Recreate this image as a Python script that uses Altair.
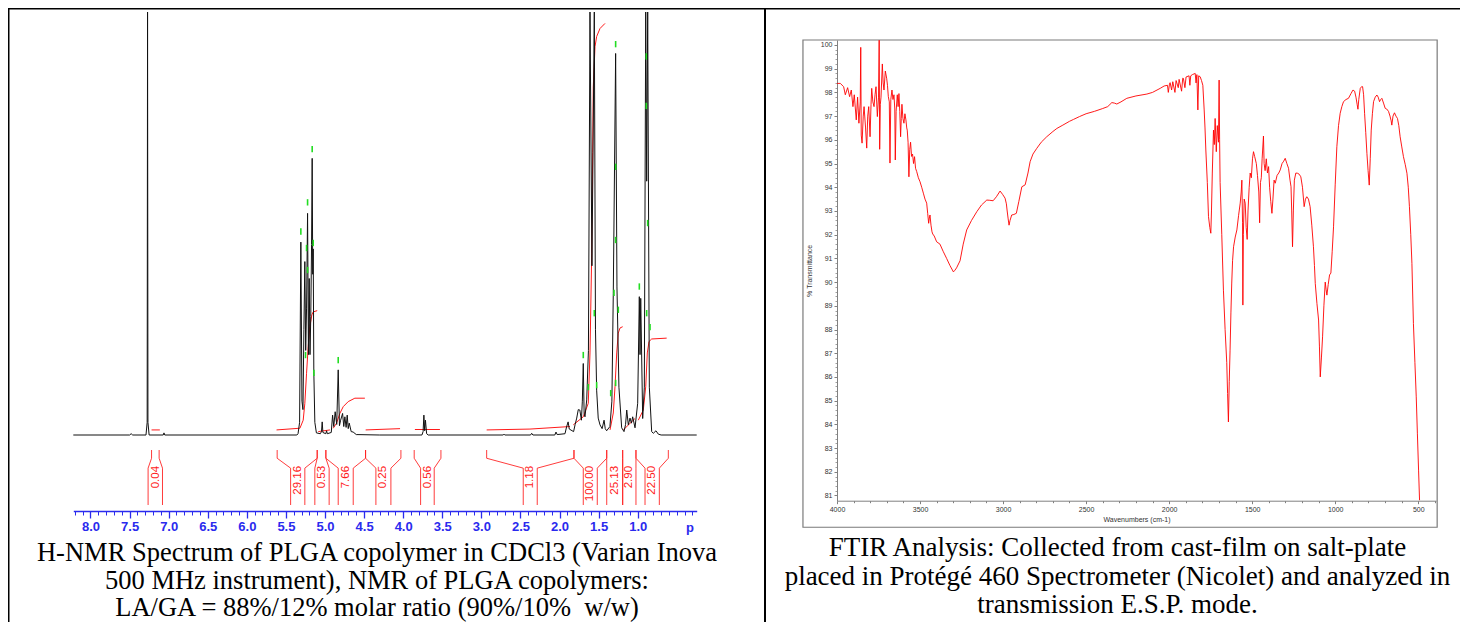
import altair as alt
import pandas as pd

# ---------------- H-NMR spectrum (chemical shift ppm, relative intensity) ----------------
nmr_ppm = [8.22, 7.50, 7.48, 7.46, 7.29, 7.275, 7.27, 7.265, 7.25, 7.07,
           7.06, 7.05, 5.36, 5.345, 5.325, 5.309, 5.295, 5.282, 5.270, 5.258,
           5.247, 5.236, 5.223, 5.212, 5.202, 5.192, 5.182, 5.172, 5.164, 5.157,
           5.151, 5.143, 5.130, 5.110, 5.06, 5.045, 5.036, 5.027, 4.99, 4.98,
           4.97, 4.92, 4.903, 4.888, 4.870, 4.850, 4.831, 4.815, 4.800, 4.775,
           4.760, 4.746, 4.730, 4.716, 4.703, 4.690, 4.665, 4.640, 4.60, 4.30,
           3.76, 3.745, 3.735, 3.725, 3.715, 3.70, 3.68, 2.72, 2.71, 2.70,
           2.37, 2.356, 2.34, 2.06, 2.045, 2.03, 1.93, 1.91, 1.89, 1.875,
           1.82, 1.80, 1.78, 1.76, 1.74, 1.72, 1.708, 1.696, 1.685, 1.674,
           1.652, 1.630, 1.610, 1.585, 1.555, 1.540, 1.525, 1.505, 1.482, 1.455,
           1.43, 1.415, 1.397, 1.355, 1.330, 1.312, 1.282, 1.265, 1.24, 1.205,
           1.175, 1.155, 1.14, 1.12, 1.098, 1.08, 1.064, 1.034, 1.000, 0.979,
           0.970, 0.961, 0.936, 0.915, 0.897, 0.885, 0.872, 0.851, 0.821, 0.80,
           0.766, 0.736, 0.70, 0.245]
nmr_int = [0, 0, 0.3, 0, 0, 3.0, 100, 3.0, 0, 0,
           0.5, 0, 0, 0.3, 3, 45.6, 8, 6, 25, 41,
           20, 30, 52.4, 19, 37, 19, 28, 45, 65.4, 38,
           44, 15, 3, 0.5, 0.3, 0.8, 3.1, 0.6, 0.3, 1.0,
           0.3, 0.6, 4.7, 2.0, 5.5, 2.5, 15.4, 2.2, 3.5, 5.1,
           2.0, 4.3, 1.8, 4.7, 1.5, 2.8, 0.8, 0.7, 0.1, 0,
           0, 0.8, 4.7, 1.0, 3.5, 0.3, 0, 0, 0.2, 0,
           0, 0.4, 0, 0, 0.7, 0.1, 0.3, 1.9, 3.1, 1.4,
           0.8, 2.5, 4.0, 6.0, 5.9, 3.5, 8.0, 16.9, 5.0, 4.3,
           8.3, 20, 100, 40, 100, 25, 10.6, 4, 2.4, 1.5,
           3.5, 1.5, 1.0, 2.0, 8, 33.5, 90.2, 35, 11.3, 1.7,
           0.8, 2.5, 5.9, 2.4, 4.0, 2.8, 4.3, 1.7, 7.5, 32.7,
           19, 32.3, 3.9, 11.3, 100, 60, 100, 11.3, 0.8, 0.4,
           1.0, 0.2, 0, 0]

# integral curves (red), one list per integrated region
integral_ppm = [
    [7.219, 7.113],
    [5.62, 5.321, 5.279, 5.258, 5.236, 5.215, 5.194, 5.168, 5.151, 5.100],
    [5.087, 4.937],
    [4.895, 4.852, 4.81, 4.767, 4.703, 4.618, 4.49],
    [4.48, 4.04],
    [3.85, 3.53],
    [2.932, 2.378, 1.866],
    [1.824, 1.696, 1.632, 1.610, 1.588, 1.576, 1.568, 1.546, 1.525, 1.482, 1.418],
    [1.354, 1.312, 1.290, 1.268, 1.248, 1.226, 1.192],
    [1.184, 1.034],
    [0.992, 0.928, 0.897, 0.877, 0.855, 0.821, 0.629],
]
integral_val = [
    [1.2, 1.2],
    [1.2, 1.6, 3.5, 7.5, 14.6, 20.9, 25.6, 28.4, 29.1, 29.4],
    [0.8, 1.2],
    [1.6, 2.8, 5.1, 6.7, 7.9, 8.7, 8.7],
    [1.2, 1.5],
    [1.3, 1.3],
    [1.2, 1.4, 2.0],
    [2.4, 4.3, 7.5, 19.4, 43, 66.7, 82.3, 91.8, 94.2, 96.1, 97.3],
    [1.2, 5.2, 11.4, 19.4, 24.1, 25.3, 25.6],
    [1.2, 3.9],
    [3.5, 5.9, 11.4, 19.4, 22.1, 22.7, 22.9],
]

# green peak-pick markers
marker_ppm = [5.309, 5.236, 5.223, 5.223, 5.164, 5.151, 5.249, 5.142, 4.831, 1.696,
              1.632, 1.555, 1.525, 1.282, 1.282, 1.282, 1.303, 1.248, 1.282, 1.345,
              0.979, 0.890, 0.890, 0.872, 0.885, 0.842]
marker_int = [48.1, 44.2, 55.0, 39.0, 67.6, 45.4, 18.9, 14.7, 17.7, 18.9,
              11.3, 28.8, 11.8, 92.4, 63.4, 46.1, 33.6, 29.6, 12.3, 9.9,
              35.1, 89.5, 77.8, 50.1, 28.8, 25.5]

# integration brackets below the spectrum
bracket_labels = ["0.04", "29.16", "0.53", "7.66", "0.25", "0.56", "1.18", "100.00", "25.13", "2.90", "22.50"]
bracket_top_left = [7.219, 5.612, 5.100, 4.989, 4.481, 3.859, 2.932, 1.815, 1.396, 1.192, 1.022]
bracket_bot_left = [7.263, 5.440, 5.130, 4.831, 4.349, 3.777, 2.464, 1.696, 1.396, 1.192, 0.906]
bracket_top_right = [7.122, 5.100, 4.989, 4.481, 4.029, 3.517, 1.815, 1.396, 1.192, 1.022, 0.608]
bracket_bot_right = [7.079, 5.258, 4.947, 4.639, 4.157, 3.603, 2.285, 1.517, 1.192, 1.022, 0.723]
bracket_label_ppm = [7.168, 5.351, 5.036, 4.737, 4.255, 3.687, 2.378, 1.610, 1.290, 1.107, 0.821]

nmr_tick_labels = [8.0, 7.5, 7.0, 6.5, 6.0, 5.5, 5.0, 4.5, 4.0, 3.5, 3.0, 2.5, 2.0, 1.5, 1.0]

# ---------------- FTIR spectrum (wavenumber cm-1, % transmittance) ----------------
ir_wn = [4000, 3980, 3960, 3950, 3936, 3924, 3914, 3904, 3896, 3884,
         3876, 3868, 3860, 3857, 3854, 3849, 3842, 3837, 3828, 3821,
         3815, 3809, 3801, 3795, 3791, 3784, 3777, 3771, 3765, 3757,
         3750, 3746, 3743, 3739, 3735, 3727, 3722, 3717, 3709, 3701,
         3696, 3691, 3685, 3681, 3676, 3669, 3663, 3657, 3652, 3649,
         3644, 3637, 3632, 3627, 3622, 3617, 3613, 3609, 3603, 3597,
         3591, 3585, 3580, 3577, 3572, 3567, 3562, 3557, 3551, 3545,
         3539, 3533, 3527, 3520, 3510, 3500, 3490, 3480, 3470, 3460,
         3454, 3448, 3444, 3440, 3434, 3428, 3422, 3416, 3400, 3380,
         3361, 3340, 3320, 3299, 3290, 3280, 3259, 3240, 3219, 3190,
         3158, 3130, 3098, 3080, 3060, 3040, 3018, 3003, 2988, 2980,
         2976, 2970, 2964, 2958, 2948, 2935, 2920, 2905, 2887, 2867,
         2850, 2837, 2820, 2797, 2770, 2737, 2700, 2676, 2640, 2600,
         2576, 2540, 2500, 2450, 2400, 2370, 2345, 2330, 2315, 2290,
         2255, 2200, 2134, 2100, 2054, 2030, 2010, 2005, 1998, 1994,
         1985, 1978, 1965, 1958, 1945, 1940, 1925, 1918, 1914, 1905,
         1898, 1880, 1875, 1870, 1860, 1850, 1843, 1838, 1833, 1827,
         1822, 1813, 1805, 1797, 1789, 1784, 1779, 1770, 1763, 1755,
         1749, 1745, 1740, 1733, 1728, 1723, 1716, 1710, 1703, 1699,
         1696, 1693, 1683, 1673, 1663, 1653, 1648, 1643, 1638, 1633,
         1628, 1623, 1618, 1612, 1602, 1592, 1582, 1572, 1566, 1562,
         1558, 1556, 1553, 1548, 1542, 1536, 1530, 1525, 1518, 1512,
         1505, 1498, 1492, 1485, 1475, 1468, 1460, 1455, 1450, 1445,
         1440, 1432, 1428, 1422, 1415, 1408, 1401, 1395, 1388, 1381,
         1375, 1368, 1361, 1350, 1340, 1331, 1320, 1310, 1301, 1291,
         1281, 1272, 1266, 1262, 1257, 1252, 1246, 1237, 1227, 1217,
         1207, 1197, 1187, 1179, 1171, 1161, 1151, 1141, 1131, 1125,
         1120, 1110, 1100, 1095, 1090, 1083, 1076, 1068, 1060, 1055,
         1050, 1042, 1034, 1026, 1018, 1010, 1000, 990, 980, 970,
         960, 950, 935, 920, 905, 893, 883, 875, 868, 863,
         858, 849, 840, 835, 829, 823, 816, 809, 802, 795,
         789, 783, 776, 769, 759, 749, 741, 733, 726, 719,
         709, 699, 690, 679, 670, 663, 659, 652, 643, 634,
         625, 617, 609, 599, 589, 578, 568, 560, 553, 545,
         538, 529, 520, 512, 505, 498, 492]
ir_t = [98.38, 98.38, 98.24, 97.9, 98.2, 97.82, 98.1, 97.4, 97.9, 96.84,
        97.8, 96.7, 97.6, 99.9, 96.2, 95.86, 97.0, 97.4, 96.5, 95.65,
        97.0, 97.4, 96.13, 97.5, 98.17, 97.6, 97.4, 97.9, 98.24, 96.98,
        97.8, 100.2, 95.6, 97.5, 97.8, 99.2, 98.4, 98.1, 98.9, 98.6,
        98.3, 97.82, 97.6, 95.02, 97.7, 98.1, 97.7, 97.9, 97.3, 95.15,
        97.2, 97.9, 97.4, 97.95, 97.2, 96.13, 96.9, 97.5, 96.9, 96.7,
        97.1, 96.84, 96.5, 96.41, 95.9, 94.44, 95.6, 95.9, 95.3, 95.4,
        95.0, 95.29, 94.8, 94.66, 94.4, 94.23, 94.0, 93.75, 93.5, 93.33,
        92.9, 92.48, 92.7, 92.83, 92.4, 92.12, 92.0, 91.97, 91.7, 91.6,
        91.3, 91.0, 90.7, 90.43, 90.5, 90.6, 90.9, 91.6, 92.2, 92.6,
        92.97, 93.25, 93.46, 93.45, 93.43, 93.6, 93.84, 93.7, 93.54, 93.3,
        93.04, 92.7, 92.4, 92.6, 92.83, 92.85, 92.9, 93.4, 94.02, 94.1,
        94.6, 95.08, 95.4, 95.64, 95.9, 96.13, 96.35, 96.48, 96.62, 96.78,
        96.86, 96.98, 97.1, 97.2, 97.32, 97.4, 97.57, 97.55, 97.51, 97.6,
        97.75, 97.85, 97.93, 98.0, 98.17, 98.27, 98.3, 98.0, 98.35, 98.41,
        98.1, 98.45, 98.0, 98.5, 98.2, 98.55, 98.05, 98.6, 98.59, 98.2,
        98.65, 98.7, 98.3, 98.7, 98.75, 98.78, 98.8, 98.4, 98.75, 97.26,
        98.7, 98.66, 98.5, 98.3, 97.26, 96.5, 95.57, 94.2, 92.76, 92.3,
        92.06, 93.0, 94.6, 96.41, 95.8, 96.9, 95.5, 96.6, 95.9, 98.52,
        96.0, 94.2, 92.0, 89.66, 88.0, 86.6, 85.3, 84.1, 85.8, 87.13,
        88.7, 89.96, 90.9, 91.49, 91.9, 92.2, 92.8, 93.33, 93.8, 94.3,
        92.5, 89.03, 92.0, 93.5, 93.33, 92.3, 91.8, 93.0, 94.0, 94.6,
        94.4, 95.2, 95.5, 95.3, 95.0, 94.5, 93.8, 92.5, 94.2, 94.4,
        95.2, 96.16, 95.0, 94.7, 95.2, 94.6, 94.87, 94.0, 93.4, 92.9,
        93.5, 94.3, 94.17, 94.5, 94.6, 94.73, 95.0, 95.1, 95.22, 95.0,
        94.8, 94.3, 94.02, 93.0, 91.49, 93.0, 94.3, 94.6, 94.59, 94.55,
        94.44, 94.0, 93.18, 93.5, 93.6, 93.5, 93.18, 92.4, 91.49, 90.7,
        89.94, 89.1, 88.4, 87.3, 86.0, 86.8, 87.69, 89.0, 90.0, 89.7,
        89.45, 89.9, 90.3, 90.38, 91.3, 92.33, 94.1, 95.71, 96.6, 97.12,
        97.4, 97.61, 97.7, 97.75, 97.95, 98.1, 98.05, 97.8, 97.5, 97.29,
        97.7, 98.17, 98.25, 98.24, 97.9, 97.12, 96.3, 95.43, 94.7, 94.09,
        95.2, 96.41, 97.1, 97.61, 97.8, 97.89, 97.8, 97.61, 97.7, 97.75,
        97.55, 97.33, 97.3, 97.2, 97.0, 96.8, 96.62, 97.0, 97.14, 97.0,
        96.9, 96.6, 96.13, 95.7, 95.29, 94.95, 94.59, 94.0, 93.18, 92.0,
        90.79, 88.26, 86.6, 85.16, 83.6, 82.07, 80.8]

ir_tick_wn = [4000, 3500, 3000, 2500, 2000, 1500, 1000, 500]
ir_tick_t = list(range(81, 101))

left_caption = ["H-NMR Spectrum of PLGA copolymer in CDCl3 (Varian Inova",
                "500 MHz instrument), NMR of PLGA copolymers:",
                "LA/GA = 88%/12% molar ratio (90%/10%\u00a0 w/w)"]
right_caption = ["FTIR Analysis: Collected from cast-film on salt-plate",
                 "placed in Protégé 460 Spectrometer (Nicolet) and analyzed in",
                 "transmission E.S.P. mode."]

# ---------------- layout (pixels of the page; page margin is 8px) ----------------
W, H = 1452, 614
OFF = 8


def px(v):
    return v - OFF


BLUE = "#2a2aee"
RED = "#ff1a1a"
GREEN = "#22dd22"
GRAY = "#808080"

NMR_X = alt.Scale(domain=[8.22, 0.245], range=[px(73.3), px(696.7)], nice=False, zero=False)
NMR_Y = alt.Scale(domain=[0, 100], range=[px(435), px(12)], nice=False, zero=False)
STRIP_Y = alt.Scale(domain=[0, 100], range=[px(450), px(505)], nice=False, zero=False)
IR_X = alt.Scale(domain=[4000, 393], range=[px(837), px(1436)], nice=False, zero=False)
IR_Y = alt.Scale(domain=[80.78, 100.21], range=[px(500.7), px(40)], nice=False, zero=False)

# ---------------- data frames ----------------
nmr_df = pd.DataFrame({"ppm": nmr_ppm, "I": nmr_int})
nmr_df["i"] = range(len(nmr_df))

rows = []
for s, (pp, vv) in enumerate(zip(integral_ppm, integral_val)):
    for k, (p, v) in enumerate(zip(pp, vv)):
        rows.append({"seg": s, "k": k, "ppm": p, "I": v})
integ_df = pd.DataFrame(rows)

mk_df = pd.DataFrame({"ppm": marker_ppm, "c": marker_int})
mk_df["lo"] = mk_df["c"] - 0.75
mk_df["hi"] = mk_df["c"] + 0.75

LEVELS = [0, 15, 33, 100]
br_rows = []
for b in range(len(bracket_labels)):
    sides = [(bracket_top_left[b], bracket_bot_left[b]), (bracket_top_right[b], bracket_bot_right[b])]
    for sd, (top, bot) in enumerate(sides):
        for k, (p, lv) in enumerate(zip([top, top, bot, bot], LEVELS)):
            br_rows.append({"seg": f"{b}-{sd}", "k": k, "ppm": p, "lv": lv})
br_df = pd.DataFrame(br_rows)
lab_df = pd.DataFrame({"ppm": bracket_label_ppm, "label": bracket_labels})
lab_df["lv"] = 29

ir_df = pd.DataFrame({"wn": ir_wn, "T": ir_t})
ir_df["i"] = range(len(ir_df))

one = pd.DataFrame({"a": [0]})

# ---------------- NMR layers ----------------
nmr_major_axis = alt.Axis(orient="bottom", offset=px(511) - H, values=nmr_tick_labels, format=".1f",
                          grid=False, domainColor=BLUE, domainWidth=1.3, tickColor=BLUE, tickSize=7,
                          tickWidth=1.3, labelColor=BLUE, labelFont="Liberation Sans", labelFontSize=13,
                          labelFontWeight="bold", labelPadding=2, labelOverlap=False, labelFlush=False,
                          title=None)
spec = alt.Chart(nmr_df).mark_line(color="#111111", strokeWidth=1).encode(
    x=alt.X("ppm:Q", scale=NMR_X, axis=nmr_major_axis),
    y=alt.Y("I:Q", scale=NMR_Y, axis=None),
    order="i:Q")

nmr_minor_vals = [round(8.2 - 0.1 * k, 1) for k in range(80)]
nmr_minor = alt.Chart(pd.DataFrame({"v": nmr_minor_vals})).mark_point(opacity=0).encode(
    x=alt.X("v:Q", scale=NMR_X,
            axis=alt.Axis(orient="bottom", offset=px(511) - H, values=nmr_minor_vals, labels=False,
                          domain=False, tickColor=BLUE, tickSize=4, tickWidth=1, grid=False, title=None)))

integ = alt.Chart(integ_df).mark_line(color=RED, strokeWidth=1).encode(
    x=alt.X("ppm:Q", scale=NMR_X, axis=None),
    y=alt.Y("I:Q", scale=NMR_Y, axis=None),
    detail="seg:N", order="k:Q")

markers = alt.Chart(mk_df).mark_rule(color=GREEN, strokeWidth=1.6).encode(
    x=alt.X("ppm:Q", scale=NMR_X, axis=None),
    y=alt.Y("lo:Q", scale=NMR_Y, axis=None), y2="hi:Q")

brackets = alt.Chart(br_df).mark_line(color=RED, strokeWidth=1, opacity=0.85).encode(
    x=alt.X("ppm:Q", scale=NMR_X, axis=None),
    y=alt.Y("lv:Q", scale=STRIP_Y, axis=None),
    detail="seg:N", order="k:Q")

blabels = alt.Chart(lab_df).mark_text(angle=270, align="right", baseline="middle", font="Liberation Sans",
                                      fontSize=11.5, color=RED).encode(
    x=alt.X("ppm:Q", scale=NMR_X, axis=None),
    y=alt.Y("lv:Q", scale=STRIP_Y, axis=None),
    text="label:N")

ppm_unit = alt.Chart(pd.DataFrame({"ppm": [0.33], "lv": [141.8], "t": ["p"]})).mark_text(
    align="center", baseline="middle", font="Liberation Sans", fontSize=13, fontWeight="bold", color=BLUE).encode(
    x=alt.X("ppm:Q", scale=NMR_X, axis=None),
    y=alt.Y("lv:Q", scale=STRIP_Y, axis=None),
    text="t:N")

# ---------------- FTIR layers ----------------
frame_df = pd.DataFrame({"x1": [4205], "x2": [386], "y1": [79.66], "y2": [100.21]})
ir_frame = alt.Chart(frame_df).mark_rect(fillOpacity=0, stroke="#7a7a7a", strokeWidth=1.2).encode(
    x=alt.X("x1:Q", scale=IR_X, axis=None), x2="x2:Q",
    y=alt.Y("y1:Q", scale=IR_Y, axis=None), y2="y2:Q")

ir_xaxis = alt.Axis(orient="bottom", offset=px(500.7) - H, values=ir_tick_wn, format="d", grid=False,
                    domainColor=GRAY, tickColor=GRAY, tickSize=3, labelFont="Liberation Sans",
                    labelFontSize=7, labelColor="#333333", labelPadding=2, labelOverlap=False,
                    labelFlush=False,
                    title="Wavenumbers (cm-1)", titleFont="Liberation Sans", titleFontSize=7,
                    titleFontWeight="normal", titleColor="#333333", titlePadding=3)
ir_yaxis = alt.Axis(orient="left", offset=-px(837), values=ir_tick_t, format="d", grid=False,
                    domainColor=GRAY, tickColor=GRAY, tickSize=3, labelFont="Liberation Sans",
                    labelFontSize=7, labelColor="#333333", labelPadding=2, labelOverlap=False,
                    labelFlush=False,
                    title="% Transmittance", titleFont="Liberation Sans", titleFontSize=7,
                    titleFontWeight="normal", titleColor="#333333", titlePadding=8)
ir_line = alt.Chart(ir_df).mark_line(color="#ff0000", strokeWidth=0.9).encode(
    x=alt.X("wn:Q", scale=IR_X, axis=ir_xaxis),
    y=alt.Y("T:Q", scale=IR_Y, axis=ir_yaxis),
    order="i:Q")

ir_minor_wn = [v for v in range(3900, 399, -100) if v % 500 != 0]
ir_xminor = alt.Chart(pd.DataFrame({"v": ir_minor_wn})).mark_point(opacity=0).encode(
    x=alt.X("v:Q", scale=IR_X,
            axis=alt.Axis(orient="bottom", offset=px(500.7) - H, values=ir_minor_wn, labels=False,
                          domain=False, tickColor=GRAY, tickSize=2, grid=False, title=None)))
ir_minor_t = [round(81 + 0.2 * k, 1) for k in range(96) if k % 5 != 0]
ir_yminor = alt.Chart(pd.DataFrame({"v": ir_minor_t})).mark_point(opacity=0).encode(
    y=alt.Y("v:Q", scale=IR_Y,
            axis=alt.Axis(orient="left", offset=-px(837), values=ir_minor_t, labels=False,
                          domain=False, tickColor="#a0a0a0", tickSize=2, grid=False, title=None)))

# ---------------- captions and table borders ----------------
capL = alt.Chart(one).mark_text(text=left_caption, font="Liberation Serif", fontSize=26.5, lineHeight=27.6,
                                align="center", baseline="alphabetic", color="black").encode(
    x=alt.value(px(377)), y=alt.value(px(561)))
capR = alt.Chart(one).mark_text(text=right_caption, font="Liberation Serif", fontSize=27, lineHeight=28.5,
                                align="center", baseline="alphabetic", color="black").encode(
    x=alt.value(px(1117.5)), y=alt.value(px(556)))

top_border = alt.Chart(one).mark_rule(color="black", strokeWidth=2).encode(
    x=alt.value(0), x2=alt.value(W), y=alt.value(0.5))
left_border = alt.Chart(one).mark_rule(color="black", strokeWidth=2).encode(
    x=alt.value(0.5), y=alt.value(0), y2=alt.value(H))
divider = alt.Chart(one).mark_rule(color="black", strokeWidth=2).encode(
    x=alt.value(px(765)), y=alt.value(0), y2=alt.value(H))

chart = alt.layer(
    ir_frame, ir_xminor, ir_yminor, ir_line,
    nmr_minor, brackets, blabels, ppm_unit, integ, spec, markers,
    capL, capR, top_border, left_border, divider,
).resolve_scale(x="independent", y="independent").properties(
    width=W, height=H, padding=0, background="white",
    autosize=alt.AutoSizeParams(type="none"),
).configure_view(stroke=None)

chart.save("out.html", embed_options={"renderer": "svg", "actions": False})
